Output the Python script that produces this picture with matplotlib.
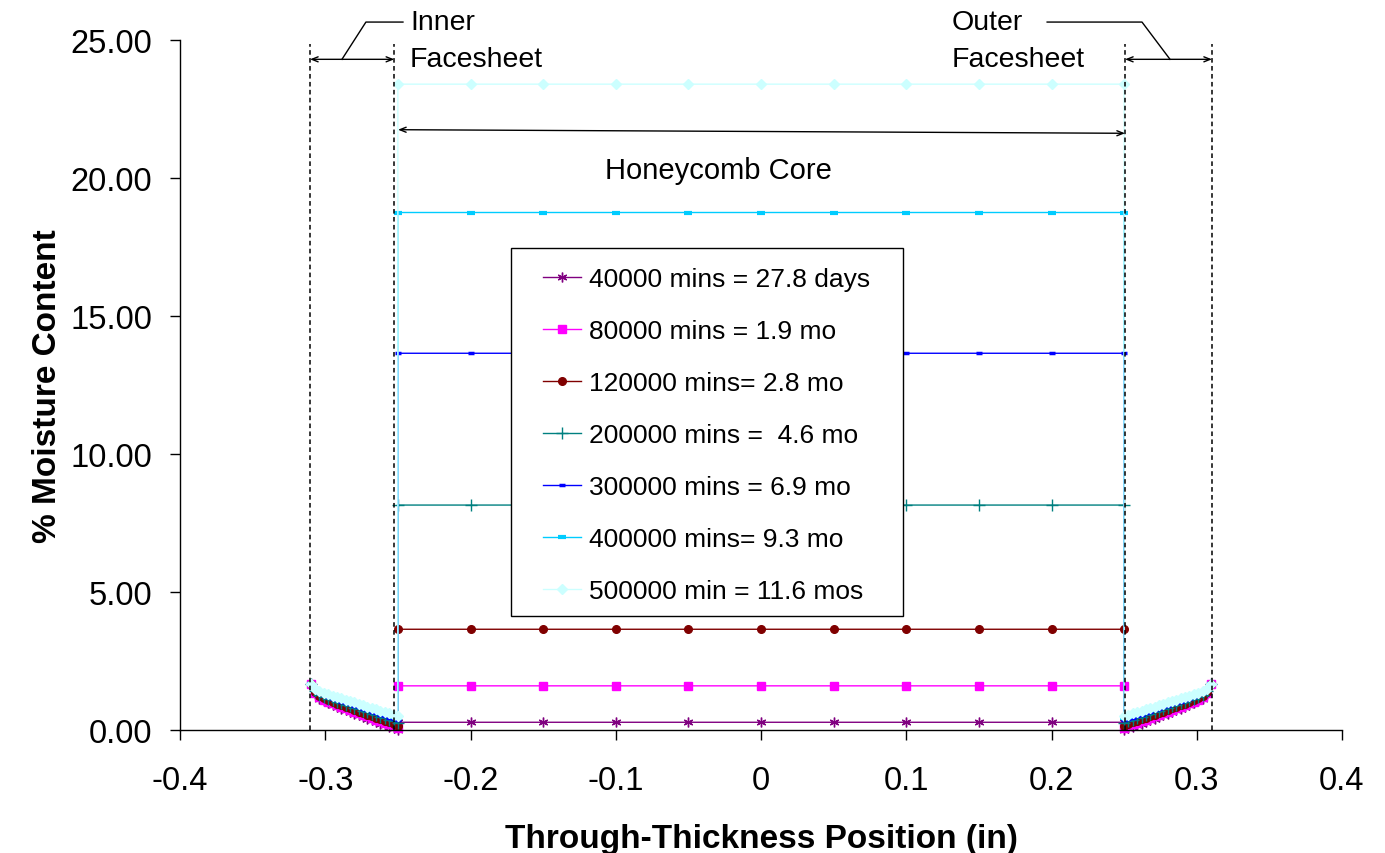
import matplotlib
matplotlib.use("Agg")
import matplotlib.pyplot as plt
from matplotlib.patches import Rectangle
import numpy as np

plt.rcParams['font.family'] = ['Liberation Sans', 'DejaVu Sans']

# legend labels, one per exposure time
labels = ["40000 mins = 27.8 days", "80000 mins = 1.9 mo", "120000 mins= 2.8 mo",
          "200000 mins =  4.6 mo", "300000 mins = 6.9 mo", "400000 mins= 9.3 mo",
          "500000 min = 11.6 mos"]
colors = ["#800080", "#FF00FF", "#800000", "#008080", "#0000FF", "#00CCFF", "#CCFFFF"]

# honeycomb core positions and (flat) moisture content per series
core_x = [-0.25, -0.2, -0.15, -0.1, -0.05, 0.0, 0.05, 0.1, 0.15, 0.2, 0.25]
core_level = [0.28, 1.6, 3.65, 8.15, 13.65, 18.75, 23.4]

# inner facesheet positions, outer surface (-0.31) to core side (-0.25)
face_x = np.linspace(-0.31, -0.25, 21)
face_40k = [1.65, 1.30, 1.12, 1.04, 0.97, 0.90, 0.84, 0.77, 0.71, 0.65, 0.59,
            0.53, 0.47, 0.41, 0.35, 0.29, 0.23, 0.17, 0.12, 0.06, 0.01]
face_80k = [1.65, 1.34, 1.18, 1.10, 1.03, 0.97, 0.91, 0.85, 0.79, 0.73, 0.67,
            0.61, 0.55, 0.49, 0.43, 0.38, 0.32, 0.26, 0.20, 0.14, 0.08]
face_120k = [1.65, 1.37, 1.23, 1.15, 1.08, 1.02, 0.96, 0.90, 0.84, 0.79, 0.73,
             0.67, 0.62, 0.56, 0.50, 0.45, 0.39, 0.33, 0.28, 0.22, 0.16]
face_200k = [1.65, 1.40, 1.28, 1.21, 1.14, 1.08, 1.02, 0.97, 0.91, 0.86, 0.80,
             0.75, 0.69, 0.64, 0.58, 0.53, 0.47, 0.42, 0.36, 0.31, 0.25]
face_300k = [1.65, 1.44, 1.33, 1.26, 1.20, 1.14, 1.09, 1.03, 0.98, 0.93, 0.87,
             0.82, 0.77, 0.72, 0.66, 0.61, 0.56, 0.50, 0.45, 0.40, 0.35]
face_400k = [1.65, 1.47, 1.37, 1.31, 1.25, 1.20, 1.15, 1.10, 1.05, 1.00, 0.94,
             0.89, 0.84, 0.79, 0.74, 0.69, 0.63, 0.58, 0.53, 0.48, 0.43]
face_500k = [1.65, 1.50, 1.41, 1.35, 1.30, 1.25, 1.20, 1.15, 1.10, 1.05, 1.00,
             0.95, 0.90, 0.85, 0.80, 0.75, 0.70, 0.65, 0.60, 0.55, 0.50]
faces = [face_40k, face_80k, face_120k, face_200k, face_300k, face_400k, face_500k]

xticks = [-0.4, -0.3, -0.2, -0.1, 0, 0.1, 0.2, 0.3, 0.4]
yticks = [0, 5, 10, 15, 20, 25]

# marker style per series (Excel-like)
markers = [dict(marker=(6, 2, 0), markersize=7, mew=1.0),
           dict(marker='s', markersize=6),
           dict(marker='o', markersize=5.5),
           dict(marker='+', markersize=8, mew=1.0),
           dict(marker='_', markersize=5, mew=2.5),
           dict(marker='_', markersize=6, mew=3.0),
           dict(marker='D', markersize=5)]

fig = plt.figure(figsize=(13.85, 8.54), dpi=100)
ax = fig.add_axes([180 / 1385, 123 / 854, 1162 / 1385, 690 / 854])

handles = []
for face, lvl, c, m, lab in zip(faces, core_level, colors, markers, labels):
    face = np.array(face)
    xs = np.concatenate([face_x, core_x, -face_x[::-1]])
    ys = np.concatenate([face, np.full(len(core_x), lvl), face[::-1]])
    h, = ax.plot(xs, ys, color=c, lw=1.0, mfc=c, mec=c, label=lab, clip_on=False, **m)
    handles.append(h)

# facesheet / core boundaries
for xb in [-0.3105, -0.2525, 0.2506, 0.3105]:
    ax.plot([xb, xb], [0, 24.85], color='black', lw=1.1, dashes=(3, 2.2))

arrow = dict(arrowstyle='<->,head_length=0.45,head_width=0.18', color='black',
             lw=1.0, shrinkA=0, shrinkB=0)
ax.annotate('', xy=(-0.3105, 24.3), xytext=(-0.2525, 24.3), arrowprops=arrow,
            annotation_clip=False)
ax.annotate('', xy=(0.2506, 24.3), xytext=(0.3105, 24.3), arrowprops=arrow,
            annotation_clip=False)
ax.annotate('', xy=(-0.2499, 21.75), xytext=(0.2506, 21.62), arrowprops=arrow,
            annotation_clip=False)

# leader lines
ax.plot([-0.2885, -0.272, -0.2465], [24.3, 25.65, 25.65], color='black', lw=1.0, clip_on=False)
ax.plot([0.197, 0.2623, 0.2816], [25.65, 25.65, 24.3], color='black', lw=1.0, clip_on=False)

tfs = 20.5
ax.text(-0.2417, 25.65, "Inner", fontsize=tfs, ha='left', va='center', clip_on=False)
ax.text(-0.2417, 24.3, "Facesheet", fontsize=tfs, ha='left', va='center', clip_on=False)
ax.text(0.1315, 25.65, "Outer", fontsize=tfs, ha='left', va='center', clip_on=False)
ax.text(0.1315, 24.3, "Facesheet", fontsize=tfs, ha='left', va='center', clip_on=False)
ax.text(-0.029, 20.3, "Honeycomb Core", fontsize=21, ha='center', va='center')

ax.set_xlim(-0.4, 0.4)
ax.set_ylim(0, 25)
ax.set_xticks(xticks)
ax.set_xticklabels([f"{v:g}" for v in xticks])
ax.set_yticks(yticks)
ax.set_yticklabels([f"{v:.2f}" for v in yticks])
ax.tick_params(axis='both', direction='out', length=7, width=1.0, labelsize=23.5)
ax.tick_params(axis='y', pad=13)
ax.tick_params(axis='x', pad=18)
for s in ['top', 'right']:
    ax.spines[s].set_visible(False)
for s in ['left', 'bottom']:
    ax.spines[s].set_linewidth(1.0)

ax.set_xlabel("Through-Thickness Position (in)", fontsize=24, fontweight='bold', labelpad=20)
ax.set_ylabel("% Moisture Content", fontsize=24, fontweight='bold', labelpad=5)

# legend box drawn separately so its padding matches the original
ax.add_patch(Rectangle((0.2849, 0.1652), 0.3373, 0.5333, transform=ax.transAxes,
                       facecolor='white', edgecolor='black', lw=1.0, zorder=4.9))
leg = ax.legend(handles=handles, loc='upper left', bbox_to_anchor=(0.3124, 0.671),
                fontsize=19, frameon=False, handlelength=1.45, handletextpad=0.3,
                labelspacing=1.06, borderpad=0, borderaxespad=0)

fig.savefig("out.png", dpi=100)
